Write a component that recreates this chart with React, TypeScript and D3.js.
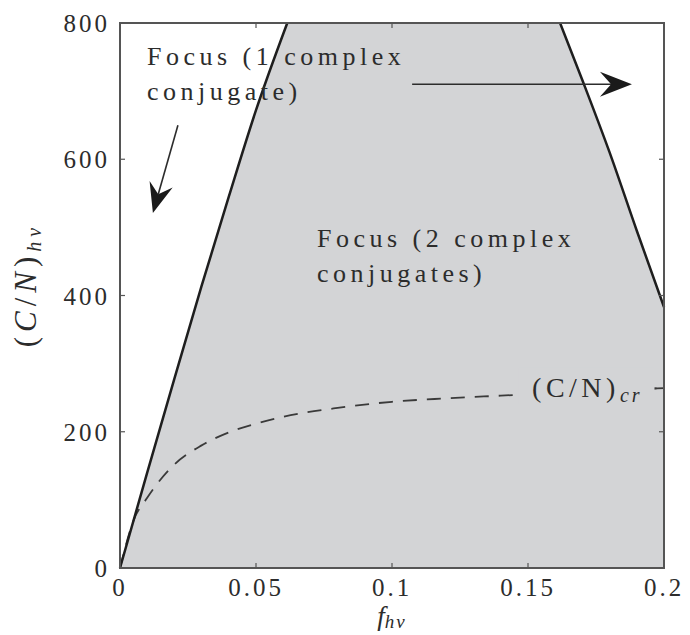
import React from 'react'
import * as d3 from 'd3'

// boundary of the "2 complex conjugates" region (left edge)
const leftF = [0, 0.01, 0.02, 0.03, 0.04, 0.05, 0.0615]
const leftCN = [0, 140, 278, 414, 545, 672, 800]

// right edge
const rightF = [0.1618, 0.17, 0.18, 0.19, 0.2]
const rightCN = [800, 716, 610, 495, 383]

// critical C/N curve (dashed)
const crF = [0, 0.005, 0.01, 0.02, 0.03, 0.04, 0.05, 0.06, 0.08, 0.1, 0.12, 0.14, 0.16, 0.18, 0.2]
const crCN = [0, 70, 103, 152, 180, 199, 212, 222, 235, 244, 249, 253, 257, 261, 264]

const xTicks = [0, 0.05, 0.1, 0.15, 0.2]
const xTickLabels = ['0', '0.05', '0.1', '0.15', '0.2']
const yTicks = [0, 200, 400, 600, 800]
const yTickLabels = ['0', '200', '400', '600', '800']

const W = 690
const H = 635
const margin = { top: 23, right: 26, bottom: 67, left: 120 }
const font = '"Liberation Serif", "Times New Roman", serif'
const ink = '#2c2c2c'
const gray = '#d3d4d6'

const x = d3.scaleLinear().domain([0, 0.2]).range([margin.left, W - margin.right])
const y = d3.scaleLinear().domain([0, 800]).range([H - margin.bottom, margin.top])

const zip = (a: number[], b: number[]) => a.map((v, i) => [v, b[i]] as [number, number])

const Arrow = ({ from, to, len, half }: { from: [number, number], to: [number, number], len: number, half: number }) => {
    const x1 = x(from[0]), y1 = y(from[1]), x2 = x(to[0]), y2 = y(to[1])
    const dx = x2 - x1, dy = y2 - y1
    const d = Math.hypot(dx, dy)
    const ux = dx / d, uy = dy / d
    const px = -uy, py = ux
    const bx = x2 - ux * len, by = y2 - uy * len
    const nx = x2 - ux * len * 0.65, ny = y2 - uy * len * 0.65
    const head = `M${x2},${y2} L${bx + px * half},${by + py * half} L${nx},${ny} L${bx - px * half},${by - py * half} Z`
    return (
        <g>
            <line x1={x1} y1={y1} x2={nx} y2={ny} stroke={ink} strokeWidth={1.6} />
            <path d={head} fill="#1a1a1a" />
        </g>
    )
}

const App = () => {
    const left = zip(leftF, leftCN)
    const right = zip(rightF, rightCN)
    const cr = zip(crF, crCN)

    const smooth = d3.line<[number, number]>().x(d => x(d[0])).y(d => y(d[1])).curve(d3.curveMonotoneX)

    const leftPath = smooth(left) || ''
    const rightPath = smooth(right) || ''
    // shaded region: left edge up, across the top, right edge down, back along the bottom
    const regionPath = leftPath + 'L' + rightPath.slice(1) + `L${x(0.2)},${y(0)}Z`

    const x0 = x(0), x1 = x(0.2), y0 = y(0), y1 = y(800)

    return (
        <svg width={W} height={H} style={{ position: 'absolute', left: 0, top: 0, background: '#fff' }} fontFamily={font}>
            <path d={regionPath} fill={gray} />

            {/* dashed critical curve, broken by its label */}
            <path d={smooth(cr) || ''} fill="none" stroke="#3a3a3a" strokeWidth={1.8} strokeDasharray="14,10" />
            <path d={smooth(cr.slice(-2)) || ''} fill="none" stroke="#3a3a3a" strokeWidth={1.8} />
            <rect x={x(0.1465)} y={y(265) - 20} width={x(0.1965) - x(0.1465)} height={36} fill={gray} />
            <text x={x(0.1515)} y={y(265) + 10} fontSize={28} fill={ink} letterSpacing={4.5}>
                (C/N)<tspan fontStyle="italic" fontSize={20} dy={5} letterSpacing={3}>cr</tspan>
            </text>

            {/* boundaries */}
            <path d={leftPath} fill="none" stroke="#1e1e1e" strokeWidth={2.5} />
            <path d={rightPath} fill="none" stroke="#1e1e1e" strokeWidth={2.5} />

            {/* frame */}
            <rect x={x0} y={y1} width={x1 - x0} height={y0 - y1} fill="none" stroke="#555" strokeWidth={2} />

            {/* ticks */}
            {xTicks.map((t, i) => (
                <g key={'x' + i}>
                    <line x1={x(t)} x2={x(t)} y1={y0} y2={y0 - 5} stroke="#555" strokeWidth={1.2} />
                    <line x1={x(t)} x2={x(t)} y1={y1} y2={y1 + 5} stroke="#555" strokeWidth={1.2} />
                    <text x={x(t)} y={y0 + 28} textAnchor="middle" fontSize={25} fill={ink} letterSpacing={3}>{xTickLabels[i]}</text>
                </g>
            ))}
            {yTicks.map((t, i) => (
                <g key={'y' + i}>
                    <line x1={x0} x2={x0 + 5} y1={y(t)} y2={y(t)} stroke="#555" strokeWidth={1.2} />
                    <line x1={x1} x2={x1 - 5} y1={y(t)} y2={y(t)} stroke="#555" strokeWidth={1.2} />
                    <text x={x0 - 10} y={y(t) + 9} textAnchor="end" fontSize={25} fill={ink} letterSpacing={3}>{yTickLabels[i]}</text>
                </g>
            ))}

            {/* axis labels */}
            <text x={(x0 + x1) / 2} y={y0 + 57} textAnchor="middle" fontSize={27} fill={ink}>
                <tspan fontStyle="italic">f</tspan>
                <tspan fontStyle="italic" fontSize={19} dy={3} letterSpacing={2}>hv</tspan>
            </text>
            <text transform={`translate(36,285) rotate(-90)`} textAnchor="middle" fontSize={31} fill={ink} letterSpacing={5}>
                (<tspan fontStyle="italic">C</tspan>/<tspan fontStyle="italic">N</tspan>)
                <tspan fontStyle="italic" fontSize={20} dy={5}>hv</tspan>
            </text>

            {/* annotations */}
            <text x={x(0.0099)} y={y(738)} fontSize={26} fill={ink} letterSpacing={4.5}>Focus (1 complex</text>
            <text x={x(0.0099)} y={y(687)} fontSize={26} fill={ink} letterSpacing={4.5}>conjugate)</text>
            <text x={x(0.0724)} y={y(471)} fontSize={26} fill={ink} letterSpacing={4.5}>Focus (2 complex</text>
            <text x={x(0.0724)} y={y(420)} fontSize={26} fill={ink} letterSpacing={4.5}>conjugates)</text>

            <Arrow from={[0.0213, 650]} to={[0.0121, 521]} len={30} half={12} />
            <Arrow from={[0.1074, 710]} to={[0.1882, 710]} len={32} half={12.5} />
        </svg>
    )
}

export default App
